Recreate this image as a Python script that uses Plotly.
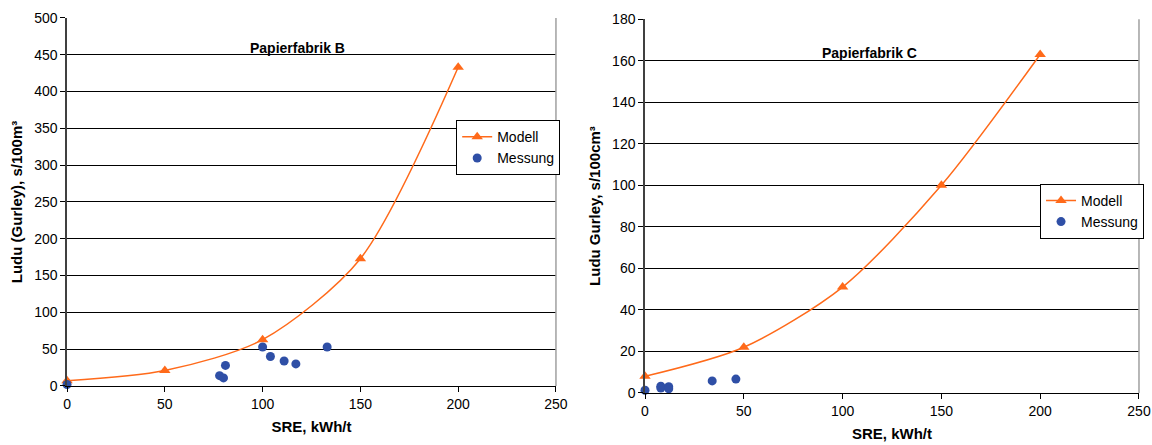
import plotly.graph_objects as go

# Papierfabrik B
b_model_x = [0, 50, 100, 150, 200]
b_model_y = [7, 21, 63, 173, 433]
b_meas_x = [0, 78, 80, 81, 100, 104, 111, 117, 133]
b_meas_y = [2, 14, 11, 28, 53, 40, 34, 30, 53]

# Papierfabrik C
c_model_x = [0, 50, 100, 150, 200]
c_model_y = [8, 22, 51, 100, 163]
c_meas_x = [0, 8, 8, 12, 12, 34, 46]
c_meas_y = [1.3, 3.3, 2.4, 3.0, 2.0, 5.8, 6.7]

x_ticks = [0, 50, 100, 150, 200, 250]
b_y_ticks = list(range(0, 501, 50))
c_y_ticks = list(range(0, 181, 20))

ORANGE = "#FF6A1A"
BLUE = "#2F4FA6"
FONT = "Liberation Sans, Arial, sans-serif"

fig = go.Figure()

fig.add_trace(go.Scatter(x=b_model_x, y=b_model_y, mode="lines+markers", name="Modell",
                         line=dict(color=ORANGE, width=1.5, shape="spline", smoothing=0.8),
                         marker=dict(symbol="triangle-up", size=10, color=ORANGE),
                         cliponaxis=False, xaxis="x", yaxis="y", legend="legend"))
fig.add_trace(go.Scatter(x=b_meas_x, y=b_meas_y, mode="markers", name="Messung",
                         marker=dict(symbol="circle", size=9, color=BLUE),
                         cliponaxis=False, xaxis="x", yaxis="y", legend="legend"))
fig.add_trace(go.Scatter(x=c_model_x, y=c_model_y, mode="lines+markers", name="Modell",
                         line=dict(color=ORANGE, width=1.5, shape="spline", smoothing=0.8),
                         marker=dict(symbol="triangle-up", size=10, color=ORANGE),
                         cliponaxis=False, xaxis="x2", yaxis="y2", legend="legend2"))
fig.add_trace(go.Scatter(x=c_meas_x, y=c_meas_y, mode="markers", name="Messung",
                         marker=dict(symbol="circle", size=9, color=BLUE),
                         cliponaxis=False, xaxis="x2", yaxis="y2", legend="legend2"))

xcommon = dict(tickvals=x_ticks, showgrid=False, zeroline=False, showline=True,
               linecolor="#000000", linewidth=1, ticks="outside", ticklen=5,
               tickcolor="#000000", tickfont=dict(size=14, color="#000"),
               title_font=dict(size=15, color="#000", family=FONT), range=[0, 250],
               automargin=False)
ycommon = dict(showgrid=True, gridcolor="#000000", gridwidth=1, zeroline=False,
               showline=True, linecolor="#404040", linewidth=1.5, ticks="outside",
               ticklen=5, tickcolor="#000000", tickfont=dict(size=14, color="#000"),
               title_font=dict(size=15, color="#000", family=FONT), automargin=False)

fig.update_layout(
    width=1152, height=445,
    margin=dict(l=0, r=0, t=0, b=0, autoexpand=False),
    paper_bgcolor="white", plot_bgcolor="white",
    font=dict(family=FONT, size=14, color="#000"),
    xaxis=dict(domain=[0.0582, 0.4826], anchor="y",
               title=dict(text="<b>SRE, kWh/t</b>", standoff=10), **xcommon),
    yaxis=dict(domain=[0.1326, 0.9596], anchor="x", range=[0, 500], tickvals=b_y_ticks,
               title=dict(text="<b>Ludu (Gurley), s/100m³</b>", standoff=8), **ycommon),
    xaxis2=dict(domain=[0.5599, 0.9887], anchor="y2",
                title=dict(text="<b>SRE, kWh/t</b>", standoff=10), **xcommon),
    yaxis2=dict(domain=[0.1169, 0.957], anchor="x2", range=[0, 180], tickvals=c_y_ticks,
                title=dict(text="<b>Ludu Gurley, s/100cm³</b>", standoff=8), **ycommon),
    legend=dict(x=0.396, y=0.73, xanchor="left", yanchor="top",
                bgcolor="white", bordercolor="#000", borderwidth=1,
                font=dict(size=14), tracegroupgap=0, itemwidth=30),
    legend2=dict(x=0.9028, y=0.587, xanchor="left", yanchor="top",
                 bgcolor="white", bordercolor="#000", borderwidth=1,
                 font=dict(size=14), tracegroupgap=0, itemwidth=30),
    annotations=[
        dict(text="<b>Papierfabrik B</b>", xref="x domain", yref="y domain",
             x=0.472, y=0.946, showarrow=False, font=dict(size=14)),
        dict(text="<b>Papierfabrik C</b>", xref="x2 domain", yref="y2 domain",
             x=0.455, y=0.936, showarrow=False, font=dict(size=14)),
    ],
    shapes=[
        dict(type="line", xref="x domain", yref="y domain", x0=1, x1=1, y0=0, y1=1,
             line=dict(color="#A0A0A0", width=1.5)),
        dict(type="line", xref="x2 domain", yref="y2 domain", x0=1, x1=1, y0=0, y1=1,
             line=dict(color="#A0A0A0", width=1.5)),
    ],
)

fig.write_html("out.html", config={"displayModeBar": False},
               post_script="document.body.style.margin='0px';document.body.style.overflow='hidden';")
